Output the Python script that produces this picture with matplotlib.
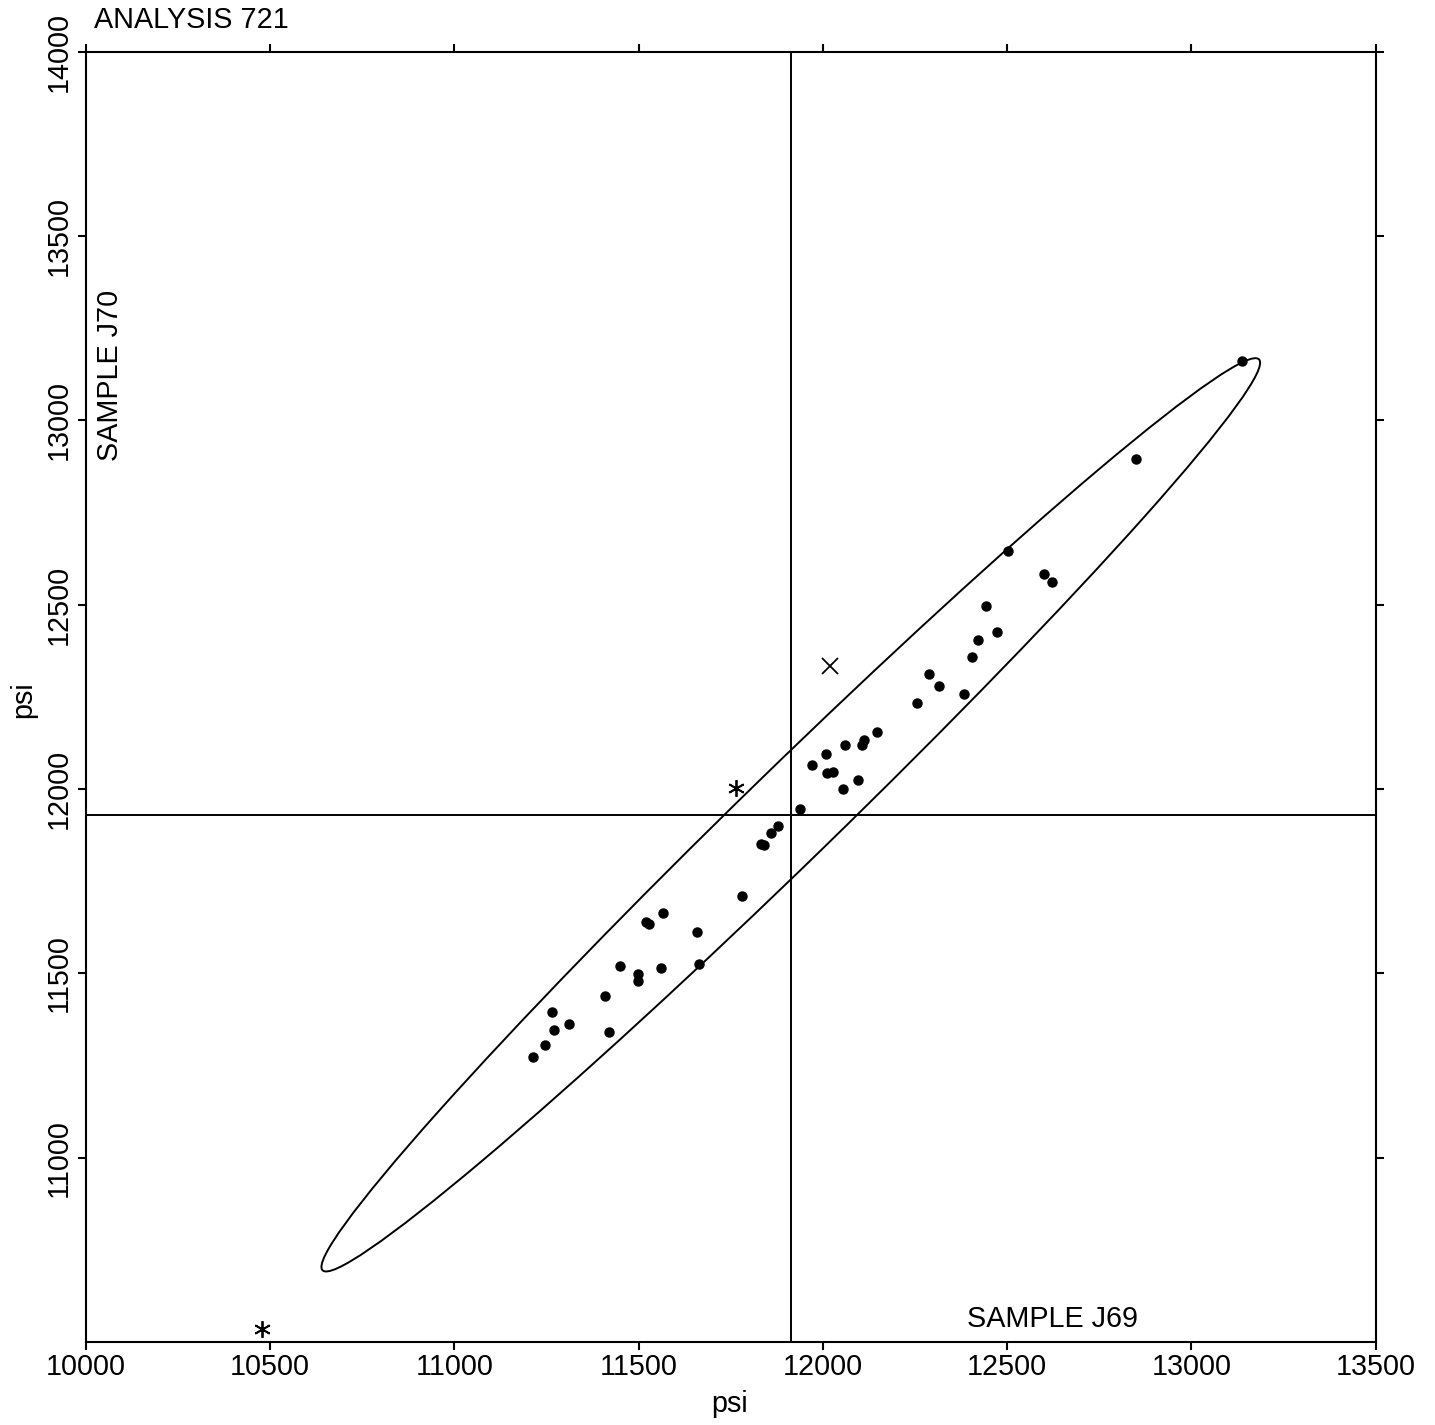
import matplotlib
matplotlib.use('Agg')
import matplotlib.pyplot as plt
from matplotlib.patches import Ellipse

plt.rcParams['font.family'] = ['Liberation Sans', 'DejaVu Sans']

# sample J69 vs sample J70 readings (psi)
j69 = [13138, 12849, 12502, 12601, 12623, 12442, 12472, 12421, 12406, 12287,
       12316, 12382, 12256, 12148, 12113, 12105, 12060, 12008, 11971, 12011,
       12028, 12095, 12055, 11938, 11878, 11859, 11832, 11839, 11780, 11566,
       11520, 11528, 11659, 11450, 11560, 11498, 11498, 11665, 11409, 11266,
       11312, 11271, 11421, 11246, 11214]
j70 = [13160, 12894, 12646, 12584, 12561, 12496, 12425, 12404, 12357, 12311,
       12279, 12259, 12233, 12154, 12134, 12119, 12119, 12094, 12065, 12043,
       12047, 12024, 12000, 11947, 11900, 11881, 11851, 11847, 11709, 11664,
       11639, 11635, 11613, 11520, 11514, 11499, 11480, 11526, 11438, 11396,
       11363, 11345, 11340, 11306, 11272]

# special points
star_x = [11764, 10478]
star_y = [12004, 10536]
cross_x = [12019]
cross_y = [12335]

# means and ellipse
mean_x = 11913
mean_y = 11930
ell_major = 1772   # semi-axis
ell_minor = 126
ell_angle = 44.2

xticks = list(range(10000, 13501, 500))
yticks = list(range(11000, 14001, 500))

FS = 20.7

fig = plt.figure(figsize=(14.35, 14.25), dpi=100)
ax = fig.add_axes([85.7 / 1435, 1 - 1342 / 1425, 1290 / 1435, 1290.3 / 1425])

ax.axvline(mean_x, color='black', lw=1.4)
ax.axhline(mean_y, color='black', lw=1.4)
ax.add_patch(Ellipse((mean_x, mean_y), 2 * ell_major, 2 * ell_minor, angle=ell_angle,
                     fill=False, edgecolor='black', lw=1.4))

ax.plot(j69, j70, 'o', color='black', markersize=6.5, linestyle='none')
ax.plot(star_x, star_y, marker=(6, 2, 0), color='black', markersize=12, mew=1.3, linestyle='none')
ax.plot(cross_x, cross_y, marker='x', color='black', markersize=11.5, mew=1.3, linestyle='none')

ax.set_xlim(10000, 13500)
ax.set_ylim(10500, 14000)
ax.set_xticks(xticks)
ax.set_yticks(yticks)
ax.tick_params(axis='both', which='both', direction='out', length=6, width=1.5,
               labelsize=FS, top=True, right=True, pad=2)
ax.tick_params(axis='y', labelrotation=90, pad=3)
for lab in ax.get_yticklabels():
    lab.set_va('center')
for sp in ax.spines.values():
    sp.set_linewidth(1.5)

fig.text(94 / 1435, 1 - 28 / 1425, 'ANALYSIS 721', fontsize=FS, ha='left', va='baseline')
ax.text(0.683, 0.012, 'SAMPLE J69', transform=ax.transAxes, fontsize=FS,
        ha='left', va='baseline')
ax.text(0.008, 0.683, 'SAMPLE J70', transform=ax.transAxes, fontsize=FS,
        rotation=90, ha='left', va='bottom')
fig.text(730 / 1435, 1 - 1412 / 1425, 'psi', fontsize=FS, ha='center', va='baseline')
fig.text(23 / 1435, 1 - 700 / 1425, 'psi', fontsize=FS, rotation=90, ha='center', va='center')

fig.savefig('out.png', dpi=100)
